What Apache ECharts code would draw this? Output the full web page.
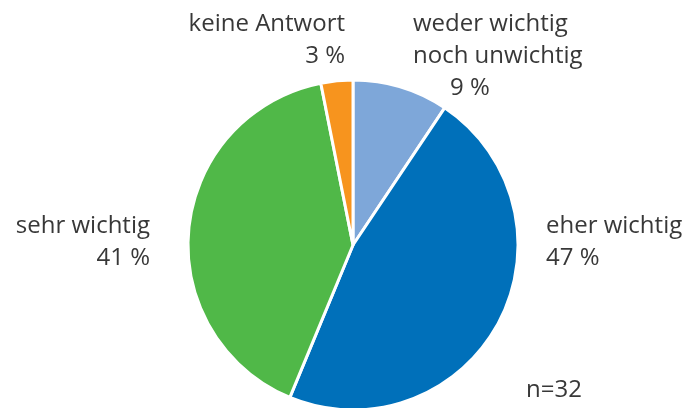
<!DOCTYPE html>
<html>
<head>
<meta charset="utf-8">
<style>
  html, body { margin: 0; padding: 0; background: #fff; }
  #chart { width: 687px; height: 408px; }
</style>
<script src="https://cdn.jsdelivr.net/npm/echarts@6/dist/echarts.min.js"></script>
</head>
<body>
<div id="chart"></div>
<script>
// Answers, clockwise from 12 o'clock (n=32 respondents)
var categories = ["weder wichtig\nnoch unwichtig", "eher wichtig", "sehr wichtig", "keine Antwort"];
var counts = [3, 15, 13, 1];
var percents = [9, 47, 41, 3];
var colors = ["#7ea7d9", "#0070ba", "#50b848", "#f7941e"];
var sampleNote = "n=32";

// where each label box sits: [x, y(top), align, indent of the % line]
var labelSpots = [
  [413, 8, "left", 37],
  [546, 210, "left", 0],
  [150, 210, "right", 0],
  [345, 8, "right", 0]
];

var chart = echarts.init(document.getElementById("chart"), null, { renderer: "canvas" });

var textColor = "#383838";
var font = "'Open Sans', 'Noto Sans', sans-serif";
var fs = 24;

chart.setOption({
  backgroundColor: "#ffffff",
  animation: false,
  title: {
    text: sampleNote,
    left: 521,
    top: 373,
    textStyle: { fontFamily: font, fontSize: fs, fontWeight: "normal", color: textColor }
  },
  series: [{
    type: "pie",
    center: [353, 245],
    radius: 165,
    startAngle: 90,
    clockwise: true,
    itemStyle: { borderColor: "#ffffff", borderWidth: 3 },
    labelLine: { show: false },
    label: {
      show: true,
      position: "outside",
      overflow: "none",
      edgeDistance: 0,
      fontFamily: font,
      fontSize: fs,
      lineHeight: 32,
      color: textColor,
      formatter: function (p) {
        var i = p.dataIndex;
        var lines = categories[i].split("\n").map(function (s) { return "{t|" + s + "}"; });
        lines.push("{p|" + percents[i] + " %}");
        return lines.join("\n");
      },
      rich: {
        t: { fontFamily: font, fontSize: fs, lineHeight: 32, color: textColor },
        p: { fontFamily: font, fontSize: fs, lineHeight: 32, color: textColor }
      }
    },
    labelLayout: function (params) {
      var s = labelSpots[params.dataIndex];
      return { x: s[0], y: s[1], align: s[2], verticalAlign: "top" };
    },
    data: categories.map(function (c, i) {
      var item = { name: c, value: counts[i], itemStyle: { color: colors[i] } };
      if (labelSpots[i][3]) {
        item.label = {
          rich: {
            p: { fontFamily: font, fontSize: fs, lineHeight: 32, color: textColor, padding: [0, 0, 0, labelSpots[i][3]] }
          }
        };
      }
      return item;
    })
  }]
});
</script>
</body>
</html>
